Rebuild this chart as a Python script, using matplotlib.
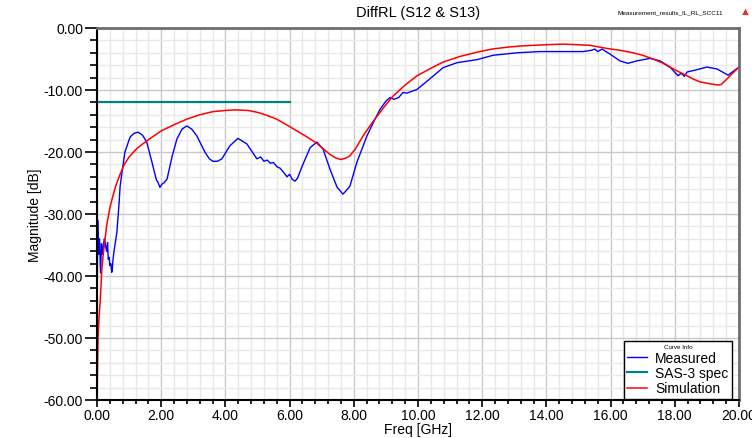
import matplotlib.pyplot as plt
from matplotlib.ticker import MultipleLocator, FormatStrFormatter

plt.rcParams["font.family"] = ["Liberation Sans", "DejaVu Sans"]

# measured differential return loss
meas_freq = [0.00, 0.02, 0.05, 0.08, 0.11, 0.14, 0.17, 0.20, 0.23, 0.25, 0.28, 0.30, 0.33,
             0.35, 0.38, 0.40, 0.43, 0.46, 0.48, 0.50, 0.53, 0.56, 0.62, 0.69, 0.72, 0.80,
             0.87, 1.03, 1.15, 1.28, 1.42, 1.55, 1.71, 1.85, 1.90, 1.96, 2.02, 2.08, 2.18,
             2.35, 2.49, 2.65, 2.80, 2.95, 3.11, 3.36, 3.50, 3.61, 3.75, 3.89, 4.14, 4.39,
             4.67, 4.98, 5.10, 5.20, 5.30, 5.40, 5.50, 5.61, 5.70, 5.80, 5.92, 6.00, 6.08,
             6.17, 6.25, 6.39, 6.64, 6.85, 7.04, 7.26, 7.48, 7.55, 7.66, 7.75, 7.88, 8.10,
             8.41, 8.66, 8.82, 9.00, 9.13, 9.25, 9.40, 9.53, 9.66, 9.97, 10.37, 10.78, 11.21,
             11.84, 12.34, 13.08, 13.80, 14.64, 15.14, 15.40, 15.51, 15.60, 15.73, 15.98,
             16.29, 16.54, 16.82, 17.23, 17.54, 17.85, 18.10, 18.20, 18.30, 18.38, 18.63,
             19.00, 19.31, 19.66, 20.00]
meas_db = [-50.0, -31.0, -36.5, -34.0, -39.5, -34.8, -36.5, -35.0, -34.0, -34.5, -35.5, -36.0,
           -34.6, -37.3, -37.0, -38.3, -38.0, -39.4, -38.6, -37.3, -36.0, -35.0, -32.9, -28.1,
           -25.5, -22.5, -20.0, -17.6, -17.0, -16.8, -17.3, -18.4, -21.6, -24.5, -24.9, -25.7,
           -25.2, -25.0, -24.4, -20.5, -17.9, -16.3, -15.8, -16.3, -17.4, -20.0, -21.1, -21.5,
           -21.5, -21.1, -19.0, -17.8, -18.7, -21.1, -20.8, -21.5, -21.3, -21.8, -21.7, -22.4,
           -22.6, -23.2, -24.0, -23.6, -24.4, -24.7, -24.2, -22.3, -19.3, -18.4, -19.5, -22.8,
           -25.7, -26.1, -26.8, -26.3, -25.5, -21.6, -17.4, -14.7, -13.1, -11.8, -11.2, -11.5,
           -11.2, -10.4, -10.5, -9.9, -8.2, -6.4, -5.6, -5.1, -4.4, -4.0, -3.8, -3.8, -3.8,
           -3.6, -3.4, -3.8, -3.4, -4.2, -5.3, -5.7, -5.3, -4.9, -5.3, -6.3, -7.7, -7.3, -7.8,
           -7.1, -6.8, -6.3, -6.6, -7.6, -6.3]

# SAS-3 return loss limit
spec_freq = [0.0, 6.0]
spec_db = [-12.0, -12.0]

# simulated differential return loss
sim_freq = [0.00, 0.03, 0.06, 0.10, 0.15, 0.20, 0.30, 0.40, 0.50, 0.60, 0.72, 0.85, 1.00,
            1.25, 1.55, 2.00, 2.40, 2.80, 3.20, 3.60, 4.00, 4.30, 4.70, 5.00, 5.30, 5.60,
            5.90, 6.23, 6.55, 6.85, 7.05, 7.26, 7.45, 7.60, 7.75, 7.88, 8.05, 8.29, 8.50,
            8.70, 8.95, 9.22, 9.60, 9.97, 10.40, 10.78, 11.30, 11.84, 12.30, 12.77, 13.20,
            13.58, 14.00, 14.52, 15.00, 15.36, 15.89, 16.30, 16.70, 17.00, 17.32, 17.60,
            17.85, 18.10, 18.38, 18.60, 18.79, 19.10, 19.35, 19.45, 19.63, 19.80, 20.00]
sim_db = [-60.0, -50.2, -47.0, -44.0, -39.0, -36.2, -31.9, -29.0, -27.0, -25.2, -23.6, -22.0,
          -20.8, -19.4, -18.2, -16.6, -15.6, -14.7, -14.0, -13.5, -13.3, -13.2, -13.3, -13.6,
          -14.1, -14.7, -15.6, -16.6, -17.6, -18.6, -19.5, -20.4, -21.0, -21.2, -21.0, -20.6,
          -19.5, -17.4, -15.8, -14.4, -12.7, -11.0, -9.2, -7.7, -6.5, -5.5, -4.6, -3.9, -3.4,
          -3.1, -2.9, -2.8, -2.7, -2.6, -2.7, -2.8, -3.3, -3.6, -4.0, -4.4, -5.0, -5.6, -6.3,
          -7.0, -7.7, -8.3, -8.7, -9.0, -9.2, -9.1, -8.2, -7.3, -6.3]

fig = plt.figure(figsize=(7.52, 4.39), dpi=100)
ax = fig.add_axes([97 / 752, 1 - 401 / 439, 642 / 752, 372 / 439])

ax.plot(meas_freq, meas_db, color="#0000ff", lw=1.0, label="Measured")
ax.plot(spec_freq, spec_db, color="#008080", lw=1.6, label="SAS-3 spec")
ax.plot(sim_freq, sim_db, color="#ff0000", lw=1.1, label="Simulation")

ax.set_xlim(0, 20)
ax.set_ylim(-60, 0)
ax.xaxis.set_major_locator(MultipleLocator(2))
ax.xaxis.set_minor_locator(MultipleLocator(0.4))
ax.yaxis.set_major_locator(MultipleLocator(10))
ax.yaxis.set_minor_locator(MultipleLocator(2))
ax.xaxis.set_major_formatter(FormatStrFormatter("%.2f"))
ax.yaxis.set_major_formatter(FormatStrFormatter("%.2f"))

ax.grid(which="major", color="#c8c8c8", lw=1.0)
ax.grid(which="minor", color="#e8e8e8", lw=1.0)
ax.set_axisbelow(True)

ax.tick_params(which="major", direction="out", length=9, width=1.2, labelsize=10, pad=1)
ax.tick_params(which="minor", direction="out", length=5, width=1.2)
ax.tick_params(axis="x", which="major", length=5)
ax.tick_params(axis="x", which="minor", length=3)

for side in ("left", "bottom"):
    ax.spines[side].set_color("black")
    ax.spines[side].set_linewidth(1.5)
for side in ("top", "right"):
    ax.spines[side].set_color("#6e6e6e")
    ax.spines[side].set_linewidth(2.0)

ax.set_xlabel("Freq [GHz]", fontsize=10, labelpad=0)
ax.set_ylabel("Magnitude [dB]", fontsize=10)
# y label sits just left of the tick labels
ax.yaxis.set_label_coords((42 - 97) / 642, 0.5)

fig.text(418 / 752, 1 - 13 / 439, "DiffRL (S12 & S13)", ha="center", va="center", fontsize=10.5)
fig.text(723 / 752, 1 - 13 / 439, "Measurement_results_IL_RL_SCC11", ha="right", va="center",
         fontsize=4.6)
fig.text(745 / 752, 1 - 12 / 439, "\u25b2", ha="center", va="center", fontsize=8, color="#e03030")

leg = ax.legend(loc="lower right", bbox_to_anchor=(0.989, 0.003), title="Curve Info",
                fontsize=10, title_fontsize=4.5, frameon=True, fancybox=False,
                edgecolor="black", handlelength=1.4, handletextpad=0.6,
                borderpad=0.25, labelspacing=0.1, borderaxespad=0.0)
leg.get_frame().set_linewidth(1.0)
leg.get_frame().set_alpha(1.0)

fig.savefig("out.png", dpi=100)
